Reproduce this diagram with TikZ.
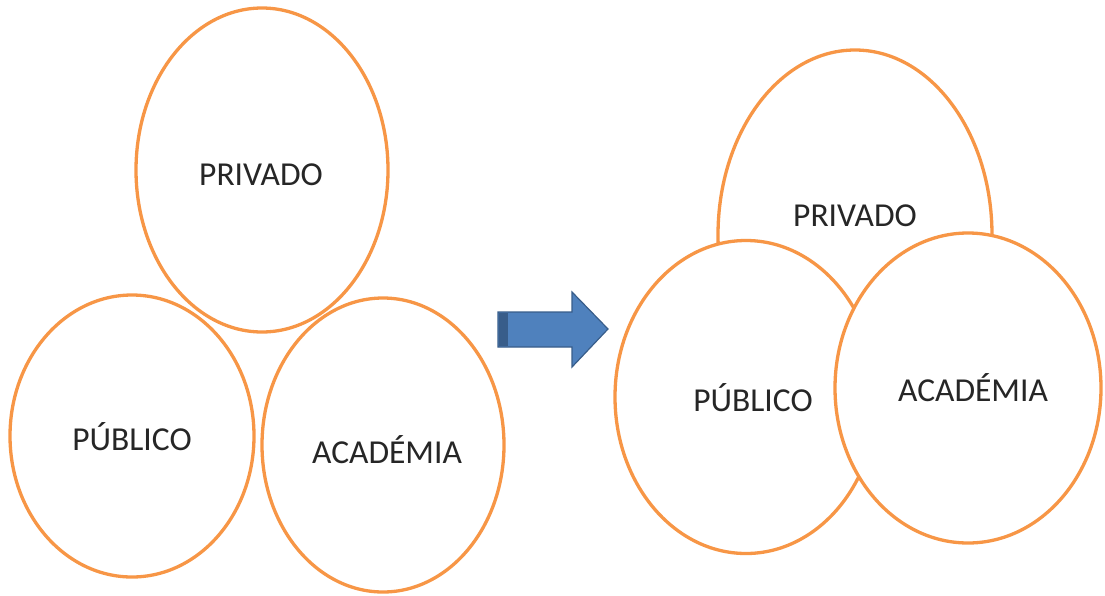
\documentclass[tikz,border=0pt]{standalone}
\usepackage{fontspec}
\setmainfont{Carlito}
\usetikzlibrary{shapes.geometric}
\definecolor{orng}{HTML}{F79646}
\definecolor{arrfill}{HTML}{4F81BD}
\definecolor{arrdraw}{HTML}{385D8A}
\tikzset{
  circ/.style={ellipse, draw=orng, line width=3.3pt, fill=white, inner sep=0pt},
  lbl/.style={font=\fontsize{33.5}{38}\selectfont, text=black!85, inner sep=0pt}
}
\begin{document}
\begin{tikzpicture}[x=1pt,y=-1pt]
\useasboundingbox (0,0) rectangle (1105,595);
% left group
\node[circ, minimum width=252pt, minimum height=324pt] (lpriv) at (262,170) {};
\node[circ, minimum width=244pt, minimum height=282pt] (lpub) at (132,436) {};
\node[circ, minimum width=242pt, minimum height=294pt] (lacad) at (383,445) {};
\node[lbl] (tlpriv) at (261,175) {PRIVADO};
\node[lbl] (tlpub) at (132,437) {PÚBLICO};
\node[lbl] (tlacad) at (387,450) {ACADÉMIA};
% arrow
\draw[fill=arrfill, draw=arrdraw, line width=1.2pt, line join=miter]
  (498,312) -- (572,312) -- (572,292) -- (608,329) -- (572,367) -- (572,347) -- (498,347) -- cycle;
\fill[arrdraw] (499,313) rectangle (508,346);
% right group
\node[circ, minimum width=274pt, minimum height=370pt] (rpriv) at (855,235) {};
\node[circ, minimum width=262pt, minimum height=313pt] (rpub) at (746,397) {};
\node[circ, minimum width=266pt, minimum height=310pt] (racad) at (968,388) {};
\node[lbl] (trpriv) at (855,216) {PRIVADO};
\node[lbl] (trpub) at (753,398) {PÚBLICO};
\node[lbl] (tracad) at (973,388) {ACADÉMIA};
\end{tikzpicture}
\end{document}
